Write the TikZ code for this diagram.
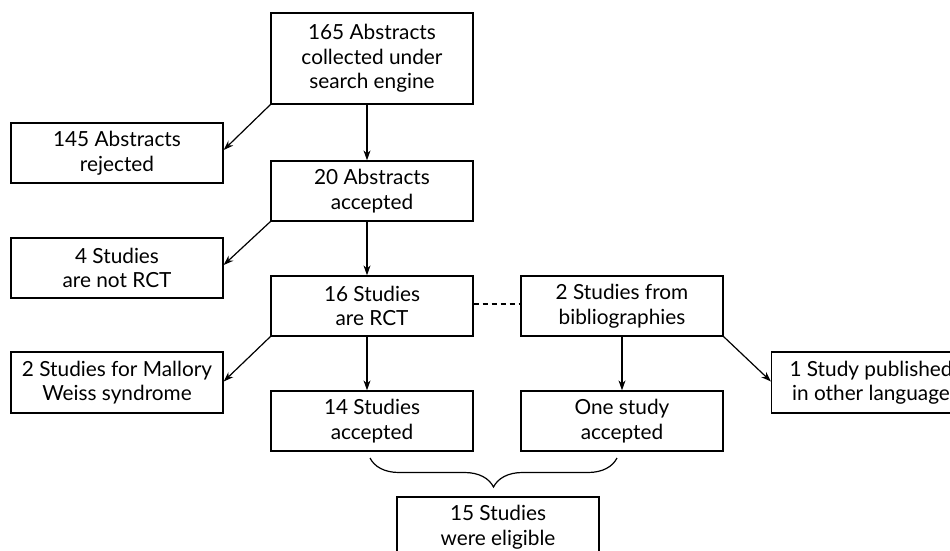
\documentclass[tikz,border=0pt]{standalone}
\usepackage{fontspec}
\setmainfont{Lato}
\usetikzlibrary{arrows.meta,decorations.pathreplacing}
\begin{document}
\begin{tikzpicture}[x=1pt,y=-1pt,
  box/.style={draw,line width=1.3pt,inner sep=0pt,align=center,
    minimum width=202pt,minimum height=60pt,
    font=\fontsize{20.8}{24.5}\selectfont},
  sidebox/.style={box,minimum width=212pt},
  arr/.style={line width=1.2pt,-{Stealth[length=10pt,width=7pt]}},
  ln/.style={line width=1.2pt}]
\useasboundingbox (0,0) rectangle (950,551);
\node[box,minimum height=91pt] (b1) at (372,58.5) {165 Abstracts\\collected under\\search engine};
\node[sidebox] (b145) at (117,153) {145 Abstracts\\rejected};
\node[box] (b20) at (372,191) {20 Abstracts\\accepted};
\node[sidebox] (b4) at (117,268) {4 Studies\\are not RCT};
\node[box] (b16) at (372,306) {16 Studies\\are RCT};
\node[box] (bbib) at (622,306) {2 Studies from\\bibliographies};
\node[sidebox,minimum height=61pt] (bmal) at (117,382.5) {2 Studies for Mallory\\Weiss syndrome};
\node[box] (b14) at (372,421) {14 Studies\\accepted};
\node[box] (bone) at (622,421) {One study\\accepted};
\node[draw,line width=1.3pt,minimum width=212pt,minimum height=61pt,anchor=west] (bpub) at (771,382.5) {};
\node[inner sep=0pt,align=center,font=\fontsize{20.8}{24.5}\selectfont] (tpub) at (871,382.5) {1 Study published\\in other language};
\node[box] (b15) at (498,527) {15 Studies\\were eligible};
\coordinate (brl) at (370,458);
\coordinate (brr) at (617,458);
\draw[arr] (b1.south west) -- ([yshift=3pt]b145.east);
\draw[arr] ([xshift=-5pt]b1.south) -- ([xshift=-5pt]b20.north);
\draw[arr] (b20.south west) -- ([yshift=3pt]b4.east);
\draw[arr] ([xshift=-5pt]b20.south) -- ([xshift=-5pt]b16.north);
\draw[arr] (b16.south west) -- ([yshift=1pt]bmal.east);
\draw[arr] ([xshift=-5pt]b16.south) -- ([xshift=-5pt]b14.north);
\draw[ln,dashed,dash pattern=on 5pt off 4pt] ([yshift=2pt]b16.east) -- ([yshift=2pt]bbib.west);
\draw[arr] (bbib.south) -- (bone.north);
\draw[arr] (bbib.south east) -- ([yshift=1pt]bpub.west);
\draw[ln,decorate,decoration={brace,mirror,amplitude=29pt}] (brl) -- (brr);
\end{tikzpicture}
\end{document}
